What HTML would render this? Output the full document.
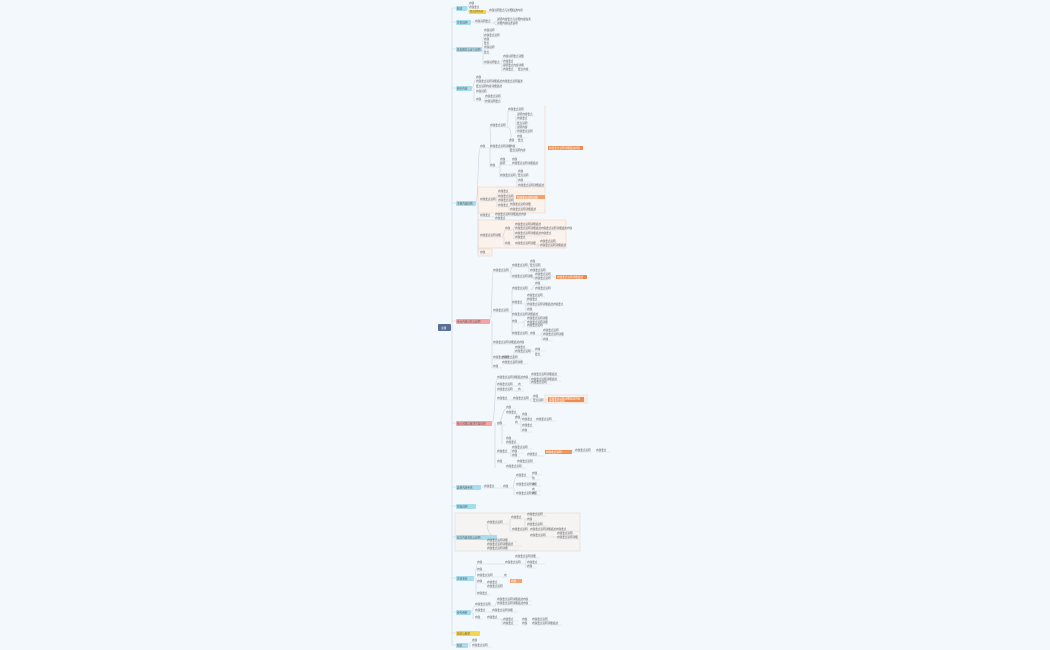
<!DOCTYPE html>
<html><head><meta charset="utf-8"><style>
html,body{margin:0;padding:0;background:#f3f8fc;}
svg{display:block}
text{font-family:"Liberation Sans","Noto Sans CJK SC",sans-serif;font-size:2.6px;fill:#555}
.u{stroke:#d3dbe5;stroke-width:0.6;fill:none}
.c{stroke:#c9d2de;stroke-width:0.6;fill:none}
</style></head><body>
<svg width="1050" height="650" viewBox="0 0 1050 650">
<rect width="1050" height="650" fill="#f3f8fc"/>
<!-- boxes -->
<rect x="478" y="187" width="67" height="26" fill="#fbf2ec" stroke="#f6d3bd" stroke-width="0.6"/>
<rect x="478" y="220" width="88" height="28" fill="#fbf2ec" stroke="#f6d3bd" stroke-width="0.6"/>
<rect x="478" y="249" width="14" height="7" fill="#fbf2ec" stroke="#f6d3bd" stroke-width="0.6"/>
<rect x="455" y="513" width="125" height="38" fill="#f6f4f2" stroke="#dcd6d2" stroke-width="0.6"/>
<rect x="545" y="395" width="42" height="8" fill="#fbf2ec" stroke="#f6d3bd" stroke-width="0.6"/>
<path d="M545 105 V187" stroke="#f6d3bd" stroke-width="0.6" fill="none"/>
<!-- trunk -->
<path class="c" d="M451 327 H452 M452 8 V645" stroke="#b9c3d3"/>
<path class="c" d="M452 8H456 M452 22H456 M452 49H456 M452 88H456 M452 203H456 M452 321H456 M452 423H456 M452 487H456 M452 506H456 M452 537H456 M452 578H456 M452 612H456 M452 633H456 M452 645H456"/>
<!-- root -->
<rect x="438" y="324" width="13" height="7" rx="1" fill="#5b6e96"/>
<text x="441" y="328.8" style="fill:#fff">主题</text>
<!-- main nodes -->
<g>
<rect x="456" y="6" width="11" height="5" rx="1" fill="#a7dcec"/>
<rect x="456" y="20" width="15" height="5" rx="1" fill="#a7dcec"/>
<rect x="456" y="47" width="26" height="5" rx="1" fill="#a7dcec"/>
<rect x="456" y="86" width="16" height="5" rx="1" fill="#a7dcec"/>
<rect x="456" y="201" width="20" height="5" rx="1" fill="#a7dcec"/>
<rect x="456" y="319" width="34" height="5" rx="1" fill="#f7a3a3"/>
<rect x="456" y="421" width="36" height="5" rx="1" fill="#f7a3a3"/>
<rect x="456" y="485" width="25" height="5" rx="1" fill="#a7dcec"/>
<rect x="456" y="504" width="20" height="5" rx="1" fill="#a7dcec"/>
<rect x="456" y="535" width="41" height="5" rx="1" fill="#a7dcec"/>
<rect x="456" y="576" width="18" height="5" rx="1" fill="#a7dcec"/>
<rect x="456" y="610" width="15" height="5" rx="1" fill="#a7dcec"/>
<rect x="456" y="631" width="24" height="5" rx="1" fill="#f7d54a"/>
<rect x="456" y="643" width="12" height="5" rx="1" fill="#a7dcec"/>
</g>
<g style="fill:#2a4a5a">
<text x="457" y="9.5">概述</text><text x="457" y="23.5">背景说明</text><text x="457" y="50.5">基本概念与定义说明</text>
<text x="457" y="89.5">相关内容</text><text x="457" y="204.5">主要内容结构</text><text x="457" y="322.5">重点内容分析与说明</text>
<text x="457" y="424.5">核心问题与解决方案说明</text><text x="457" y="488.5">其他内容补充</text><text x="457" y="507.5">附加说明</text>
<text x="457" y="538.5">综合内容总结与说明</text><text x="457" y="579.5">注意事项</text><text x="457" y="613.5">参考资料</text>
<text x="457" y="634.5">总结与展望</text><text x="457" y="646.5">附录</text>
</g>
<!-- orange / yellow tags -->
<rect x="469" y="10" width="17" height="4" fill="#f7d54a"/>
<rect x="548" y="146" width="35" height="4" fill="#f08a4b"/>
<rect x="516" y="195" width="29" height="4" fill="#f4a26d"/>
<rect x="556" y="275" width="31" height="4" fill="#f08a4b"/>
<rect x="548" y="397" width="36" height="5" fill="#f08a4b"/>
<rect x="545" y="450" width="27" height="4" fill="#f08a4b"/>
<rect x="510" y="579" width="12" height="4" fill="#f4a26d"/>
<!-- leaves: underline paths -->
<path class="u" d="
M469 5h4 M469 9h6 M489 12h28
M475 23h18 M497 21h30 M497 25h20
M484 32h8 M484 37h14 M484 41h6 M484 45h4 M484 49h10 M484 54h7 M484 64h17 M503 58h21 M503 63h10 M503 67h18 M503 71h13 M518 71h13
M476 79h4 M476 83h22 M502 83h20 M476 88h23 M476 93h11 M485 98h17 M485 103h15 M476 101h8
M480 148h10 M490 127h17 M508 111h16 M517 116h18 M517 120h10 M517 125h12 M517 129h10 M517 133h14 M517 138h10 M509 142h8 M518 142h6
M490 148h20 M510 148h8 M510 152h15 M490 167h10 M500 161h8 M500 165h10 M512 161h9 M512 165h25 M500 177h16 M518 173h4 M518 177h10 M518 182h13 M518 187h24
M480 201h16 M498 193h12 M498 198h16 M498 202h16 M498 207h10 M510 206h22 M510 211h25
M480 217h12 M495 216h30 M495 220h10
M480 237h22 M505 230h8 M515 226h18 M515 230h50 M515 236h32 M515 239h12 M505 245h8 M515 245h20 M540 243h17 M540 247h25 M480 254h10
M493 272h17 M512 267h16 M530 263h8 M530 267h12 M530 272h17 M512 278h21 M535 276h18 M535 280h14
M493 312h19 M512 290h19 M535 285h10 M535 290h14 M512 304h14 M527 297h18 M527 301h13 M527 306h34 M527 311h6 M512 316h28 M512 323h9 M527 320h20 M527 324h20 M527 327h16 M512 335h16 M530 335h10 M543 332h14 M543 336h20 M543 341h10
M493 344h30 M493 359h19 M515 349h14 M515 353h16 M535 351h10 M535 356h8 M502 359h20 M502 364h26 M493 368h9
M497 379h32 M531 376h30 M531 381h30 M531 384h20 M497 386h18 M518 386h5 M497 391h21 M518 391h6 M497 400h14 M513 400h17 M533 398h8 M533 402h12
M497 425h9 M506 409h10 M506 414h12 M515 419h8 M522 416h8 M522 421h12 M536 421h20 M522 427h12 M522 432h10 M515 424h5 M506 440h10 M506 444h14 M497 453h14 M512 449h20 M512 453h12 M512 457h8 M527 456h18 M575 452h16 M596 452h15 M497 463h10 M517 463h18 M506 468h20
M484 488h17 M503 488h10 M516 477h17 M516 486h25 M516 495h25 M532 475h10 M532 480h8 M532 486h6 M532 491h8 M532 495h8
M487 524h22 M511 519h15 M527 516h20 M527 521h10 M527 526h20 M512 531h18 M530 531h50 M530 537h22 M557 535h18 M557 539h22 M487 542h30 M487 546h35 M487 550h32
M477 564h10 M505 564h20 M515 558h25 M527 564h18 M527 568h10 M477 571h9 M477 577h25 M504 577h4 M477 583h8 M487 584h14 M487 588h16 M477 595h14
M475 606h20 M497 601h35 M497 605h35 M475 612h14 M492 612h26 M475 619h8 M487 619h13 M503 621h15 M503 625h15 M522 621h6 M522 625h6 M532 621h18 M532 625h30
M472 642h4 M472 647h20"/>
<!-- connectors -->
<path class="c" d="
M467 8 C468 8 468 5 469 5 M467 8 C468 8 468 12 469 12 M486 12h3
M471 22h4 M493 23 C495 23 495 21 497 21 M493 23 C495 23 495 25 497 25
M482 49 C483 49 483 32 484 32 M483 49 V64 C483 64 483 64 484 64 M501 64 C502 64 502 58 503 58 M502 64 V71 H503
M472 88 C474 88 474 79 476 79 M474 88 V101 M498 83h4 M484 101 C485 101 485 98 485 98 M484 101 C485 101 485 103 485 103
M476 203 C478 203 478 148 480 148 M478 203 V254 M490 148 C491 148 490 127 490 127 M490 148 V167 M507 127 C508 127 508 111 508 111 M507 127 C512 127 512 142 509 142 M516 133 V116 M510 148 V152 M500 167 V161 M510 165h2 M500 167 V177 H500 M516 177 C517 177 517 173 518 173 M517 177 V187
M496 201 C497 201 497 193 498 193 M497 201 V207 M508 207 C509 207 509 206 510 206 M509 207 V211
M492 217h3 M502 237 C504 237 504 230 505 230 M504 237 V245 H505 M513 230 C514 230 514 226 515 226 M514 230 V239 M535 245h5 M538 245 V243 V247
M490 321 C492 321 492 272 493 272 M492 321 V368 M510 272 C511 272 511 267 512 267 M511 272 V278 M528 267 C529 267 529 263 530 263 M529 267 V272 M533 278 h2 M534 276 V280 M553 277h3
M512 312 C512 312 512 290 512 290 M512 312 V335 M531 290 C533 290 533 285 535 285 M526 304 C527 304 527 297 527 297 M526 304 V311 M521 323 C524 323 524 320 527 320 M524 323 V327 M528 335h2 M540 335 C542 335 542 332 543 332 M542 335 V341
M512 359 C514 359 514 349 515 349 M514 359 V364 M529 351h6
M492 423 C495 423 495 379 497 379 M495 423 V468 M529 379 C530 379 530 376 531 376 M530 379 V384 M515 386h3 M515 391h3 M511 400h2 M530 400 C531 400 531 398 533 398 M531 400 V402 M545 400h3
M497 425 C502 425 502 409 506 409 M502 425 V444 M516 414 C517 414 517 419 515 419 M520 421 C521 421 521 416 522 416 M521 421 V432 M534 421h2
M511 453 C511 453 511 449 512 449 M511 453 V457 M545 452h30
M481 487h3 M501 488h2 M513 488 C514 488 514 477 516 477 M514 488 V495 M533 477 C532 477 532 475 532 475
M497 537 C487 537 487 524 487 524 M509 524 C510 524 510 519 511 519 M510 524 V531 H512 M526 519h1 M525 519 V526 M530 531 h0 M552 537h5
M474 578 C476 578 476 564 477 564 M476 578 V595 M487 564h18 M525 564 C526 564 526 558 527 558 M526 564 V568 M502 577h2 M508 581h2 M485 584h2
M471 612 C473 612 473 606 475 606 M473 612 V619 M495 606 C496 606 496 601 497 601 M489 612h3 M500 619 C502 619 502 621 503 621 M502 619 V625
M468 645 C470 645 470 642 472 642 M470 645 V647"/>
<!-- text -->
<g>
<text x="469" y="4">内容</text><text x="469" y="8">内容要点</text><text x="470" y="11.8" style="font-size:2.2px">要点说明内容</text><text x="489" y="11">内容说明要点与详细描述内容</text>
<text x="475" y="22">内容说明要点</text><text x="497" y="20">说明内容要点与详细内容描述</text><text x="497" y="24">详细内容描述说明</text>
<text x="484" y="31">内容说明</text><text x="484" y="36">内容要点说明</text><text x="484" y="40">内容</text><text x="484" y="44">要点</text><text x="484" y="48">内容说明</text><text x="484" y="53">要点</text><text x="484" y="63">内容说明要点</text>
<text x="503" y="57">内容说明要点详细</text><text x="503" y="62">内容要点</text><text x="503" y="66">说明要点内容详细</text><text x="503" y="70">内容要点</text><text x="518" y="70">要点内容</text>
<text x="476" y="78">内容</text><text x="476" y="82">内容要点说明详细描述</text><text x="502" y="82">内容要点说明描述</text><text x="476" y="87">要点说明内容详细描述</text><text x="476" y="92">内容说明</text><text x="485" y="97">内容要点说明</text><text x="485" y="102">内容说明要点</text><text x="476" y="100">内容</text>
<text x="480" y="147">内容</text><text x="490" y="126">内容要点说明</text><text x="508" y="110">内容要点说明</text>
<text x="517" y="115">说明内容要点</text><text x="517" y="119">内容要点</text><text x="517" y="124">要点说明</text><text x="517" y="128">说明内容</text><text x="517" y="132">内容要点说明</text><text x="517" y="137">内容</text><text x="509" y="141">内容</text><text x="518" y="141">要点</text>
<text x="490" y="147">内容要点说明详细</text><text x="510" y="147">内容</text><text x="510" y="151">要点说明内容</text><text x="490" y="166">内容</text><text x="500" y="160">内容</text><text x="500" y="164">说明</text><text x="512" y="160">内容</text><text x="512" y="164">内容要点说明详细描述</text>
<text x="500" y="176">内容要点说明</text><text x="518" y="172">内容</text><text x="518" y="176">要点说明</text><text x="518" y="181">内容</text><text x="518" y="186">内容要点说明详细描述</text>
<text x="549" y="149" style="fill:#fff">内容要点说明详细描述内容</text>
<text x="480" y="200">内容要点说明</text><text x="498" y="192">内容要点</text><text x="498" y="197">内容要点说明</text><text x="498" y="201">内容要点说明</text><text x="498" y="206">内容要点</text><text x="510" y="205">内容要点说明详细</text><text x="510" y="210">内容要点说明详细描述</text>
<text x="517" y="198.3" style="fill:#fff">内容要点说明详细</text>
<text x="480" y="216">内容要点</text><text x="495" y="215">内容要点说明详细描述内容</text><text x="495" y="219">内容要点</text>
<text x="480" y="236">内容要点说明详细</text><text x="505" y="229">内容</text><text x="515" y="225">内容要点说明详细描述</text><text x="515" y="229">内容要点说明详细描述内容要点说明详细描述内容</text><text x="515" y="234">内容要点说明详细描述内容要点</text><text x="515" y="238">内容要点</text><text x="505" y="244">内容</text><text x="515" y="244">内容要点说明详细</text><text x="540" y="242">内容要点说明</text><text x="540" y="246">内容要点说明详细描述</text><text x="480" y="253">内容</text>
<text x="493" y="271">内容要点说明</text><text x="512" y="266">内容要点说明</text><text x="530" y="262">内容</text><text x="530" y="266">要点说明</text><text x="530" y="271">内容要点说明</text><text x="512" y="277">内容要点说明详细</text><text x="535" y="275">内容要点说明</text><text x="535" y="279">内容要点说明</text>
<text x="557" y="278" style="fill:#fff">内容要点说明详细描述</text>
<text x="493" y="311">内容要点说明</text><text x="512" y="289">内容要点说明</text><text x="535" y="284">内容</text><text x="535" y="289">内容要点说明</text><text x="512" y="303">内容要点</text><text x="527" y="296">内容要点说明</text><text x="527" y="300">内容要点</text><text x="527" y="305">内容要点说明详细描述内容要点</text><text x="527" y="310">内容</text>
<text x="512" y="315">内容要点说明详细描述</text><text x="512" y="322">内容</text><text x="527" y="319">内容要点说明详细</text><text x="527" y="323">内容要点说明详细</text><text x="527" y="326">内容要点说明</text><text x="512" y="334">内容要点说明</text><text x="530" y="334">内容</text><text x="543" y="331">内容要点说明</text><text x="543" y="335">内容要点说明详细</text><text x="543" y="340">内容</text>
<text x="493" y="343">内容要点说明详细描述内容</text><text x="493" y="358">内容要点说明</text><text x="515" y="348">内容要点</text><text x="515" y="352">内容要点说明</text><text x="535" y="350">内容</text><text x="535" y="355">要点</text><text x="502" y="358">内容要点说明</text><text x="502" y="363">内容要点说明详细</text><text x="493" y="367">内容</text>
<text x="497" y="378">内容要点说明详细描述内容</text><text x="531" y="375">内容要点说明详细描述</text><text x="531" y="380">内容要点说明详细描述</text><text x="531" y="383">内容要点说明</text><text x="497" y="385">内容要点说明</text><text x="518" y="385">内</text><text x="497" y="390">内容要点说明</text><text x="518" y="390">内</text>
<text x="497" y="399">内容要点</text><text x="513" y="399">内容要点说明</text><text x="533" y="397">内容</text><text x="533" y="401">要点说明</text>
<text x="549" y="399.5" style="fill:#fff">内容要点说明详细描述内容</text><text x="549" y="402" style="fill:#fff">内容要点说明</text>
<text x="497" y="424">内容</text><text x="506" y="408">内容</text><text x="506" y="413">内容要点</text><text x="515" y="418">内容</text><text x="522" y="415">内容</text><text x="522" y="420">内容要点</text><text x="536" y="420">内容要点说明</text><text x="522" y="426">内容要点</text><text x="522" y="431">内容</text><text x="515" y="423">内</text><text x="506" y="439">内容</text><text x="506" y="443">内容要点</text>
<text x="497" y="452">内容要点</text><text x="512" y="448">内容要点说明</text><text x="512" y="452">内容</text><text x="512" y="456">内容</text><text x="527" y="455">内容要点</text><text x="546" y="452.8" style="fill:#fff">内容要点说明</text><text x="575" y="451">内容要点说明</text><text x="596" y="451">内容要点</text>
<text x="497" y="462">内容</text><text x="517" y="462">内容要点说明</text><text x="506" y="467">内容要点说明</text>
<text x="484" y="487">内容要点</text><text x="503" y="487">内容</text><text x="516" y="476">内容要点</text><text x="516" y="485">内容要点说明详细</text><text x="516" y="494">内容要点说明详细</text><text x="532" y="474">内容</text><text x="532" y="479">内</text><text x="532" y="485">内</text><text x="532" y="490">内</text><text x="532" y="494">内</text>
<text x="487" y="523">内容要点说明</text><text x="511" y="518">内容要点</text><text x="527" y="515">内容要点说明</text><text x="527" y="520">内容</text><text x="527" y="525">内容要点说明</text><text x="512" y="530">内容要点说明</text><text x="530" y="530">内容要点说明详细描述内容要点</text><text x="530" y="536">内容要点说明</text><text x="557" y="534">内容要点说明</text><text x="557" y="538">内容要点说明详细</text>
<text x="487" y="541">内容要点说明详细</text><text x="487" y="545">内容要点说明详细描述</text><text x="487" y="549">内容要点说明详细</text>
<text x="477" y="563">内容</text><text x="505" y="563">内容要点说明</text><text x="515" y="557">内容要点说明详细</text><text x="527" y="563">内容要点</text><text x="527" y="567">内容</text><text x="477" y="570">内容</text><text x="477" y="576">内容要点说明</text><text x="504" y="576">内</text><text x="511" y="582" style="fill:#fff">内容</text><text x="477" y="582">内容</text><text x="487" y="583">内容要点</text><text x="487" y="587">内容要点说明</text><text x="477" y="594">内容要点</text>
<text x="475" y="605">内容要点说明</text><text x="497" y="600">内容要点说明详细描述内容</text><text x="497" y="604">内容要点说明详细描述内容</text><text x="475" y="611">内容要点</text><text x="492" y="611">内容要点说明详细</text><text x="475" y="618">内容</text><text x="487" y="618">内容要点</text><text x="503" y="620">内容要点</text><text x="503" y="624">内容要点</text><text x="522" y="620">内容</text><text x="522" y="624">内容</text><text x="532" y="620">内容要点说明</text><text x="532" y="624">内容要点说明详细描述</text>
<text x="472" y="641">内容</text><text x="472" y="646">内容要点说明</text>
</g>
</svg>
</body></html>
